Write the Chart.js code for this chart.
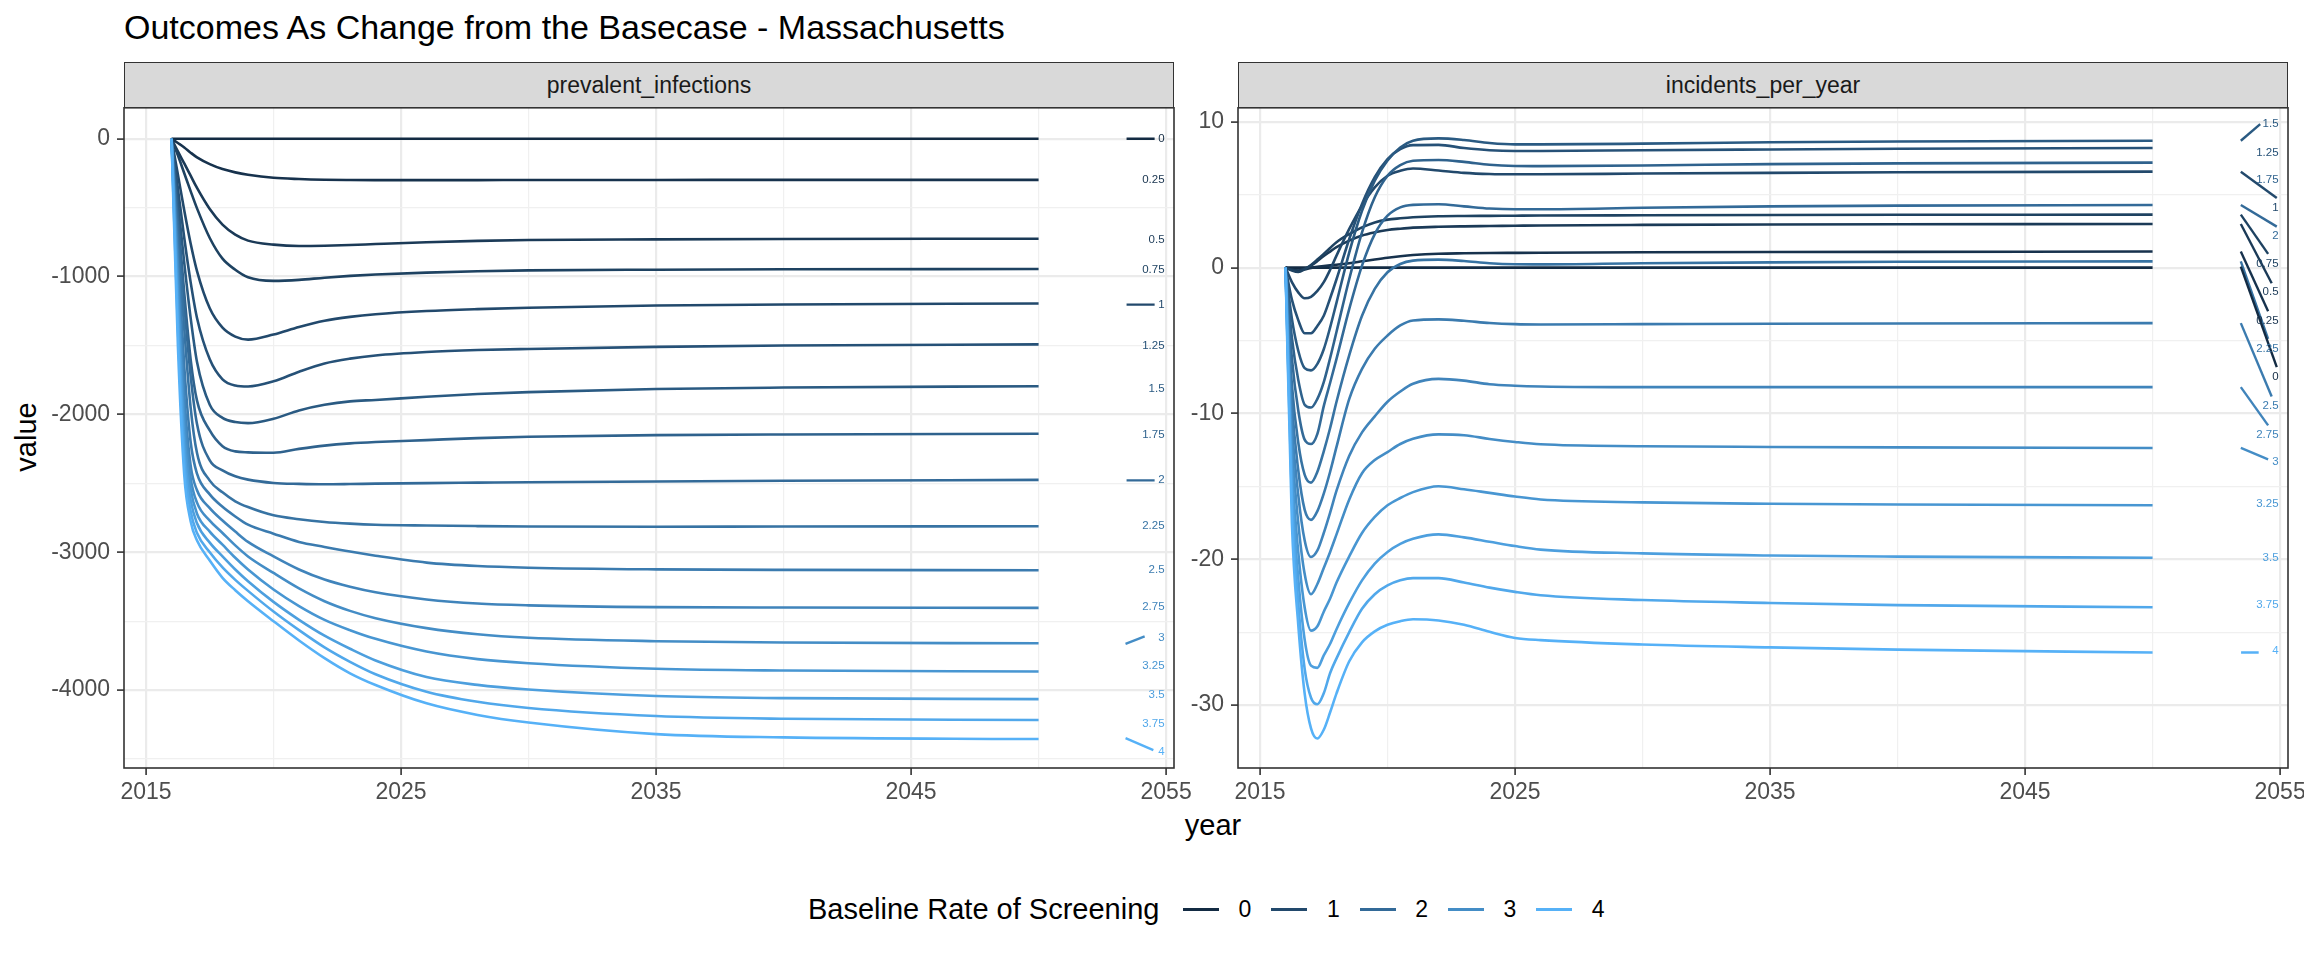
<!DOCTYPE html>
<html>
<head>
<meta charset="utf-8">
<title>Outcomes As Change from the Basecase - Massachusetts</title>
<script src="https://cdn.jsdelivr.net/npm/chart.js@4.4.1/dist/chart.umd.min.js"></script>
<style>
    html, body { margin: 0; padding: 0; background: #ffffff; overflow: hidden; }
    #page { position: relative; width: 2304px; height: 960px; font-family: "Liberation Sans", Arial, sans-serif; }
    .txt { position: absolute; white-space: nowrap; line-height: 1; }
    .strip { position: absolute; top: 62px; height: 46px; background: #D9D9D9; border: 1.6px solid #333333; box-sizing: border-box;
             display: flex; align-items: center; justify-content: center; font-size: 23px; color: #1A1A1A; }
    .key { position: absolute; top: 908px; width: 36px; height: 3px; }
    canvas { position: absolute; }
</style>
</head>
<body>
<div id="page">
    <div class="txt" style="left:124px; top:10px; font-size:34px; color:#000;">Outcomes As Change from the Basecase - Massachusetts</div>
    <div class="strip" style="left:124px; width:1050px;">prevalent_infections</div>
    <div class="strip" style="left:1238px; width:1050px;">incidents_per_year</div>
    <div class="txt" style="left:26px; top:437px; font-size:29px; color:#000; transform: translate(-50%, -50%) rotate(-90deg);">value</div>
    <div class="txt" style="left:1213px; top:811px; font-size:29px; color:#000; transform: translateX(-50%);">year</div>
    <div class="txt" style="left:808px; top:895px; font-size:29px; color:#000;">Baseline Rate of Screening</div>
    <div id="legendKeys"></div>
    <canvas id="prevChart" width="1230" height="741" style="left:0px; top:87px; width:1230px; height:741px;"></canvas>
    <canvas id="incChart" width="1230" height="741" style="left:1114px; top:87px; width:1230px; height:741px;"></canvas>
</div>
<script>
// screening rates, one line per rate
const RATES = [0, 0.25, 0.5, 0.75, 1, 1.25, 1.5, 1.75, 2, 2.25, 2.5, 2.75, 3, 3.25, 3.5, 3.75, 4];
const LEGEND_BREAKS = [0, 1, 2, 3, 4];

// x ticks (shared by both panels)
const X_MAJOR = [2015, 2025, 2035, 2045, 2055];
const X_MINOR = [2020, 2030, 2040, 2050];

// prevalent_infections panel
const PREV_Y_MAJOR = [0, -1000, -2000, -3000, -4000];
const PREV_Y_MINOR = [-500, -1500, -2500, -3500, -4500];
const PREV_YEARS = [2016, 2016.25, 2016.5, 2016.75, 2017, 2017.5, 2018, 2018.5, 2019, 2020, 2021, 2022, 2023, 2024, 2026, 2028, 2030, 2035, 2040, 2050];
const prev_0   = [0, 0, 0, 0, 0, 0, 0, 0, 0, 0, 0, 0, 0, 0, 0, 0, 0, 0, 0, 0];
const prev_025 = [0, -31, -63, -101, -135, -184, -220, -244, -261, -283, -292, -297, -299, -300, -300, -300, -299, -299, -298, -298];
const prev_05  = [0, -92, -179, -268, -357, -510, -623, -696, -739, -768, -778, -776, -771, -764, -751, -741, -734, -730, -727, -725];
const prev_075 = [0, -120, -250, -380, -505, -720, -870, -950, -1005, -1031, -1024, -1008, -995, -985, -971, -961, -955, -950, -947, -945];
const prev_1   = [0, -260, -520, -760, -960, -1230, -1370, -1435, -1457, -1420, -1365, -1320, -1292, -1273, -1250, -1236, -1226, -1210, -1202, -1195];
const prev_125 = [0, -360, -720, -1040, -1300, -1600, -1745, -1790, -1797, -1760, -1690, -1630, -1595, -1572, -1547, -1533, -1525, -1510, -1500, -1492];
const prev_15  = [0, -460, -900, -1300, -1620, -1930, -2025, -2055, -2063, -2031, -1971, -1930, -1905, -1895, -1872, -1852, -1838, -1815, -1805, -1795];
const prev_175 = [0, -560, -1120, -1600, -1900, -2116, -2230, -2268, -2275, -2278, -2250, -2226, -2210, -2200, -2186, -2172, -2162, -2150, -2145, -2140];
const prev_2   = [0, -620, -1200, -1720, -2070, -2333, -2406, -2449, -2473, -2497, -2504, -2507, -2505, -2502, -2498, -2495, -2492, -2486, -2481, -2475];
const prev_225 = [0, -720, -1380, -1950, -2280, -2480, -2565, -2630, -2672, -2732, -2760, -2780, -2792, -2800, -2806, -2810, -2813, -2815, -2813, -2811];
const prev_25  = [0, -830, -1650, -2200, -2430, -2580, -2670, -2740, -2800, -2865, -2925, -2961, -2995, -3025, -3075, -3100, -3112, -3124, -3128, -3130];
const prev_275 = [0, -920, -1850, -2370, -2550, -2680, -2770, -2850, -2925, -3030, -3125, -3198, -3250, -3290, -3342, -3372, -3385, -3398, -3401, -3403];
const prev_3   = [0, -1010, -2000, -2460, -2640, -2770, -2860, -2950, -3030, -3150, -3262, -3355, -3425, -3478, -3550, -3595, -3620, -3645, -3655, -3660];
const prev_325 = [0, -1120, -2120, -2540, -2720, -2850, -2945, -3040, -3125, -3270, -3390, -3490, -3565, -3628, -3720, -3775, -3805, -3845, -3858, -3865];
const prev_35  = [0, -1240, -2230, -2620, -2790, -2930, -3030, -3125, -3210, -3360, -3490, -3605, -3700, -3785, -3905, -3962, -3995, -4043, -4058, -4065];
const prev_375 = [0, -1370, -2330, -2700, -2860, -3000, -3110, -3200, -3280, -3430, -3565, -3690, -3795, -3885, -4012, -4085, -4130, -4188, -4208, -4217];
const prev_4   = [0, -1500, -2440, -2775, -2915, -3060, -3185, -3275, -3355, -3500, -3640, -3768, -3878, -3963, -4096, -4180, -4235, -4319, -4343, -4355];

// direct labels on the right of the prevalent panel (one per rate)
const LABEL_X = 2054.94;
const PREV_LABEL_Y = [0, -297, -732, -949, -1203, -1500, -1812, -2145, -2478, -2811, -3130, -3398, -3620, -3821, -4036, -4246, -4449];
const PREV_SEG_RATES = [0, 1, 2, 3, 4];
const PREV_SEG_X0 = [2053.45, 2053.45, 2053.45, 2053.41, 2053.41];
const PREV_SEG_Y0 = [0, -1203, -2478, -3664, -4348];
const PREV_SEG_X1 = [2054.55, 2054.55, 2054.55, 2054.16, 2054.5];
const PREV_SEG_Y1 = [0, -1203, -2478, -3610, -4435];

// incidents_per_year panel
const INC_Y_MAJOR = [10, 0, -10, -20, -30];
const INC_Y_MINOR = [5, -5, -15, -25];
const INC_YEARS = [2016, 2016.25, 2016.5, 2016.75, 2017, 2017.25, 2017.5, 2017.75, 2018, 2018.5, 2019, 2019.5, 2020, 2020.5, 2021, 2022, 2023, 2024, 2025, 2026, 2030, 2035, 2040, 2050];
const inc_0   = [0, 0, 0, 0, 0, 0, 0, 0, 0, 0, 0, 0, 0, 0, 0, 0, 0, 0, 0, 0, 0, 0, 0, 0];
const inc_025 = [0, -0.15, -0.2, -0.12, -0.02, 0.05, 0.1, 0.15, 0.2, 0.3, 0.43, 0.56, 0.68, 0.78, 0.86, 0.95, 0.98, 1.0, 1.01, 1.02, 1.05, 1.07, 1.08, 1.1];
const inc_05  = [0, -0.15, -0.2, -0.08, 0.14, 0.45, 0.8, 1.1, 1.4, 1.85, 2.2, 2.42, 2.58, 2.67, 2.74, 2.8, 2.83, 2.85, 2.87, 2.89, 2.93, 2.96, 2.97, 2.99];
const inc_075 = [0, -0.2, -0.3, -0.12, 0.18, 0.55, 0.94, 1.35, 1.74, 2.3, 2.76, 3.1, 3.29, 3.38, 3.45, 3.52, 3.54, 3.55, 3.56, 3.57, 3.59, 3.61, 3.62, 3.63];
const inc_1   = [0, -1.0, -1.7, -2.1, -2.0, -1.6, -1.0, -0.15, 0.82, 2.65, 4.25, 5.5, 6.3, 6.64, 6.8, 6.66, 6.5, 6.42, 6.4, 6.4, 6.45, 6.5, 6.54, 6.58];
const inc_125 = [0, -2.2, -3.6, -4.5, -4.5, -4.0, -3.3, -2.1, -0.8, 1.96, 4.36, 6.2, 7.44, 8.13, 8.4, 8.42, 8.2, 8.05, 8.0, 8.0, 8.05, 8.1, 8.15, 8.2];
const inc_15  = [0, -3.5, -5.7, -6.9, -7.05, -6.6, -5.6, -4.1, -2.4, 1.05, 3.9, 5.96, 7.35, 8.24, 8.7, 8.86, 8.75, 8.55, 8.45, 8.45, 8.5, 8.6, 8.65, 8.7];
const inc_175 = [0, -4.8, -7.7, -9.4, -9.6, -9.0, -7.85, -6.2, -4.4, -0.78, 2.42, 4.82, 6.3, 7.03, 7.33, 7.38, 7.25, 7.05, 6.97, 6.96, 7.0, 7.1, 7.15, 7.2];
const inc_2   = [0, -6.2, -9.8, -11.8, -12.1, -11.4, -9.5, -7.9, -6.26, -2.83, 0.14, 2.3, 3.56, 4.13, 4.3, 4.34, 4.2, 4.05, 4.0, 4.0, 4.1, 4.2, 4.25, 4.29];
const inc_225 = [0, -8.0, -12.0, -14.2, -14.75, -14.0, -12.6, -11.0, -9.2, -6.0, -3.3, -1.46, -0.32, 0.25, 0.48, 0.55, 0.45, 0.3, 0.23, 0.22, 0.3, 0.36, 0.4, 0.43];
const inc_25  = [0, -9.3, -13.9, -16.6, -17.3, -16.7, -15.5, -14.0, -12.3, -9.0, -6.94, -5.57, -4.66, -3.97, -3.63, -3.55, -3.65, -3.8, -3.88, -3.9, -3.88, -3.85, -3.83, -3.81];
const inc_275 = [0, -10.7, -15.6, -18.7, -19.85, -19.4, -18.2, -16.8, -15.3, -12.9, -11.3, -10.2, -9.2, -8.5, -7.97, -7.63, -7.75, -8.0, -8.1, -8.15, -8.2, -8.2, -8.2, -8.2];
const inc_3   = [0, -12.0, -17.5, -21.0, -22.4, -21.7, -20.6, -19.5, -18.3, -15.9, -14.1, -13.2, -12.65, -12.1, -11.74, -11.44, -11.5, -11.75, -11.96, -12.12, -12.25, -12.3, -12.33, -12.37];
const inc_325 = [0, -13.5, -19.5, -23.3, -24.9, -24.6, -23.6, -22.7, -21.6, -19.8, -18.2, -17.1, -16.3, -15.8, -15.4, -15.0, -15.2, -15.45, -15.7, -15.9, -16.1, -16.2, -16.25, -16.3];
const inc_35  = [0, -14.8, -21.3, -25.5, -27.3, -27.45, -26.6, -25.8, -24.8, -23.0, -21.45, -20.3, -19.5, -18.95, -18.6, -18.3, -18.5, -18.8, -19.1, -19.34, -19.6, -19.75, -19.82, -19.9];
const inc_375 = [0, -16.0, -23.0, -27.5, -29.5, -29.95, -29.2, -27.8, -26.8, -25.0, -23.4, -22.4, -21.8, -21.45, -21.3, -21.3, -21.6, -21.95, -22.24, -22.47, -22.8, -23.0, -23.15, -23.3];
const inc_4   = [0, -17.5, -24.5, -29.2, -31.6, -32.3, -31.7, -30.5, -29.2, -27.0, -25.7, -24.95, -24.5, -24.25, -24.12, -24.2, -24.5, -24.98, -25.4, -25.55, -25.85, -26.05, -26.2, -26.4];

const INC_LABEL_Y = [-7.51, -3.63, -1.64, 0.25, 4.13, 7.90, 9.84, 6.0, 2.19, -5.57, -9.45, -11.44, -13.33, -16.23, -19.9, -23.1, -26.3];
const INC_SEG_RATES = [1.5, 1, 2, 0.75, 0.5, 0.25, 0, 2.25, 2.5, 2.75, 3, 4];
const INC_SEG_X0 = [2053.46, 2053.46, 2053.46, 2053.46, 2053.46, 2053.46, 2053.46, 2053.46, 2053.46, 2053.46, 2053.46, 2053.47];
const INC_SEG_Y0 = [8.70, 6.58, 4.29, 3.63, 2.99, 1.10, 0.07, 0.43, -3.81, -8.2, -12.37, -26.4];
const INC_SEG_X1 = [2054.22, 2054.87, 2054.87, 2054.53, 2054.67, 2054.53, 2054.87, 2054.53, 2054.67, 2054.53, 2054.53, 2054.16];
const INC_SEG_Y1 = [9.84, 4.77, 2.81, 0.94, -1.07, -2.99, -6.83, -4.89, -8.84, -10.82, -13.15, -26.4];

const PREV_SERIES = [prev_0, prev_025, prev_05, prev_075, prev_1, prev_125, prev_15, prev_175, prev_2, prev_225, prev_25, prev_275, prev_3, prev_325, prev_35, prev_375, prev_4];
const INC_SERIES = [inc_0, inc_025, inc_05, inc_075, inc_1, inc_125, inc_15, inc_175, inc_2, inc_225, inc_25, inc_275, inc_3, inc_325, inc_35, inc_375, inc_4];

const FONT = '"Liberation Sans", Arial, sans-serif';

// ggplot-like continuous colour scale, interpolated in Lab
function hexToRgb(h) { return [1, 3, 5].map(i => parseInt(h.slice(i, i + 2), 16) / 255); }
function toLin(c) { return c <= 0.04045 ? c / 12.92 : Math.pow((c + 0.055) / 1.055, 2.4); }
function fromLin(c) { return c <= 0.0031308 ? 12.92 * c : 1.055 * Math.pow(c, 1 / 2.4) - 0.055; }
function rgbToLab(rgb) {
    const [r, g, b] = rgb.map(toLin);
    const X = (0.4124 * r + 0.3576 * g + 0.1805 * b) / 0.95047;
    const Y = 0.2126 * r + 0.7152 * g + 0.0722 * b;
    const Z = (0.0193 * r + 0.1192 * g + 0.9505 * b) / 1.08883;
    const f = t => t > 216 / 24389 ? Math.cbrt(t) : (24389 / 27 * t + 16) / 116;
    const fx = f(X), fy = f(Y), fz = f(Z);
    return [116 * fy - 16, 500 * (fx - fy), 200 * (fy - fz)];
}
function labToRgb(lab) {
    const fy = (lab[0] + 16) / 116, fx = fy + lab[1] / 500, fz = fy - lab[2] / 200;
    const finv = t => t * t * t > 216 / 24389 ? t * t * t : (116 * t - 16) / (24389 / 27);
    const X = finv(fx) * 0.95047, Y = finv(fy), Z = finv(fz) * 1.08883;
    const r = 3.2406 * X - 1.5372 * Y - 0.4986 * Z;
    const g = -0.9689 * X + 1.8758 * Y + 0.0415 * Z;
    const b = 0.0557 * X - 0.2040 * Y + 1.0570 * Z;
    return [r, g, b].map(c => Math.round(Math.min(1, Math.max(0, fromLin(c))) * 255));
}
const LOW_LAB = rgbToLab(hexToRgb('#132B43'));
const HIGH_LAB = rgbToLab(hexToRgb('#56B1F7'));
function rateColor(rate) {
    const t = rate / 4;
    const lab = LOW_LAB.map((v, i) => v + (HIGH_LAB[i] - v) * t);
    const [r, g, b] = labToRgb(lab);
    return `rgb(${r}, ${g}, ${b})`;
}

// legend keys
const legendBox = document.getElementById('legendKeys');
LEGEND_BREAKS.forEach((b, i) => {
    const left = 1183 + i * 88.3;
    legendBox.innerHTML += `
        <div class="key" style="left:${left}px; background:${rateColor(b)};"></div>
        <div class="txt" style="left:${left + 62}px; top:898px; font-size:23px; color:#000; transform: translateX(-50%);">${b}</div>
    `;
});

function makeDatasets(years, series, segRates, segX0, segY0, segX1, segY1) {
    const sets = [];
    // highest rate first so it ends up drawn on top
    for (let i = RATES.length - 1; i >= 0; i--) {
        sets.push({
            data: years.map((yr, j) => ({ x: yr, y: series[i][j] })),
            borderColor: rateColor(RATES[i]),
            borderWidth: 2.6,
            pointRadius: 0,
            fill: false,
            cubicInterpolationMode: 'monotone'
        });
    }
    segRates.forEach((r, k) => {
        sets.push({
            data: [{ x: segX0[k], y: segY0[k] }, { x: segX1[k], y: segY1[k] }],
            borderColor: rateColor(r),
            borderWidth: 2.4,
            pointRadius: 0,
            fill: false,
            tension: 0
        });
    });
    return sets;
}

function makePanelPlugin(labelValues) {
    return {
        id: 'panelDecor',
        afterDatasetsDraw(chart) {
            const { ctx, chartArea: a } = chart;
            const xs = chart.scales.x, ys = chart.scales.y;
            ctx.save();
            ctx.font = `11.5px ${FONT}`;
            ctx.textAlign = 'right';
            ctx.textBaseline = 'middle';
            labelValues.forEach((v, i) => {
                ctx.fillStyle = rateColor(RATES[i]);
                ctx.fillText(String(RATES[i]), xs.getPixelForValue(LABEL_X), ys.getPixelForValue(v));
            });
            ctx.strokeStyle = '#333333';
            ctx.lineWidth = 1.6;
            ctx.strokeRect(a.left, a.top, a.right - a.left, a.bottom - a.top);
            ctx.restore();
        }
    };
}

function makeChart(canvasId, years, series, yMin, yMax, yMajor, yMinor, labelValues, segs) {
    const xTicks = X_MAJOR.concat(X_MINOR);
    const yTicks = yMajor.concat(yMinor);
    const tickFont = { family: FONT, size: 23 };
    return new Chart(document.getElementById(canvasId), {
        type: 'line',
        data: { datasets: makeDatasets(years, series, ...segs) },
        options: {
            responsive: false,
            animation: false,
            events: [],
            layout: { padding: { top: 20, right: 56, bottom: 0, left: 0 } },
            plugins: { legend: { display: false }, tooltip: { enabled: false } },
            scales: {
                x: {
                    type: 'linear',
                    min: 2014.137,
                    max: 2055.31,
                    afterBuildTicks: s => { s.ticks = xTicks.map(v => ({ value: v })); },
                    afterFit: s => { s.height = 60; },
                    ticks: {
                        autoSkip: false,
                        maxRotation: 0,
                        padding: 4,
                        color: '#4D4D4D',
                        font: tickFont,
                        callback: v => X_MAJOR.includes(v) ? String(v) : ''
                    },
                    grid: {
                        color: c => X_MAJOR.includes(c.tick.value) ? '#EBEBEB' : '#F0F0F0',
                        lineWidth: c => X_MAJOR.includes(c.tick.value) ? 2.2 : 1.2,
                        tickColor: c => X_MAJOR.includes(c.tick.value) ? '#333333' : 'rgba(0,0,0,0)',
                        tickLength: 7,
                        tickWidth: 1.6
                    },
                    border: { display: false }
                },
                y: {
                    type: 'linear',
                    min: yMin,
                    max: yMax,
                    afterBuildTicks: s => { s.ticks = yTicks.map(v => ({ value: v })); },
                    afterFit: s => { s.width = 124; },
                    ticks: {
                        autoSkip: false,
                        padding: 7,
                        color: '#4D4D4D',
                        font: tickFont,
                        callback: v => yMajor.includes(v) ? String(v) : ''
                    },
                    grid: {
                        color: c => yMajor.includes(c.tick.value) ? '#EBEBEB' : '#F0F0F0',
                        lineWidth: c => yMajor.includes(c.tick.value) ? 2.2 : 1.2,
                        tickColor: c => yMajor.includes(c.tick.value) ? '#333333' : 'rgba(0,0,0,0)',
                        tickLength: 7,
                        tickWidth: 1.6
                    },
                    border: { display: false }
                }
            }
        },
        plugins: [makePanelPlugin(labelValues)]
    });
}

makeChart('prevChart', PREV_YEARS, PREV_SERIES, -4565, 224.6, PREV_Y_MAJOR, PREV_Y_MINOR, PREV_LABEL_Y,
    [PREV_SEG_RATES, PREV_SEG_X0, PREV_SEG_Y0, PREV_SEG_X1, PREV_SEG_Y1]);
makeChart('incChart', INC_YEARS, INC_SERIES, -34.32, 10.96, INC_Y_MAJOR, INC_Y_MINOR, INC_LABEL_Y,
    [INC_SEG_RATES, INC_SEG_X0, INC_SEG_Y0, INC_SEG_X1, INC_SEG_Y1]);
</script>
</body>
</html>
